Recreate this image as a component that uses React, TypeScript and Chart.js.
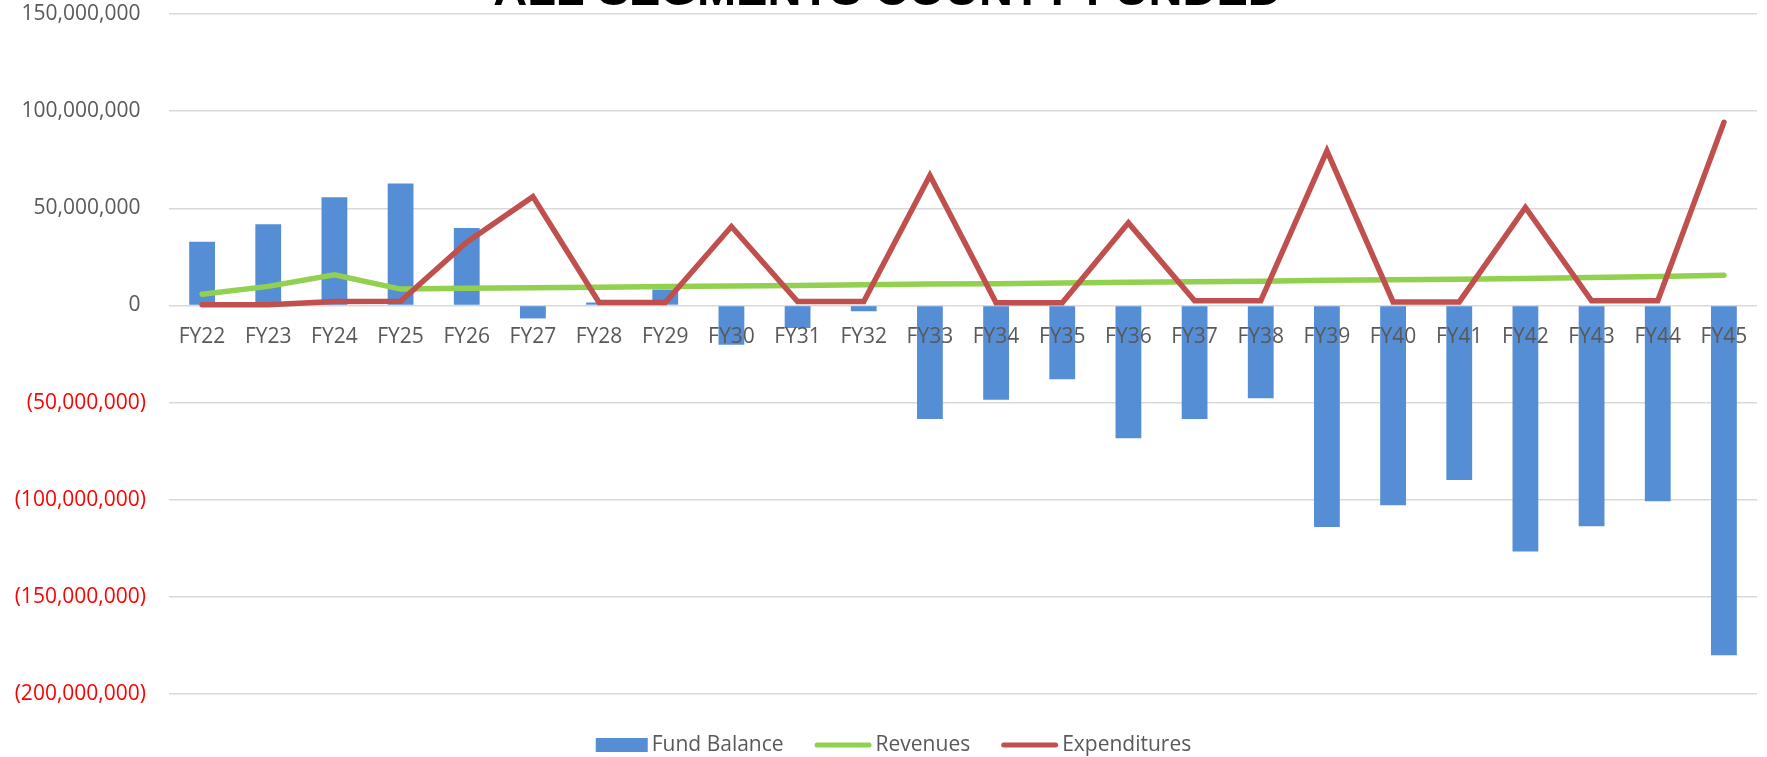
import React, { useEffect, useRef } from 'react';
import { Chart, registerables } from 'chart.js';

Chart.register(...registerables);

const TITLE = 'ALL SEGMENTS COUNTY FUNDED';

const CATEGORIES = [
  'FY22', 'FY23', 'FY24', 'FY25', 'FY26', 'FY27', 'FY28', 'FY29', 'FY30', 'FY31', 'FY32', 'FY33',
  'FY34', 'FY35', 'FY36', 'FY37', 'FY38', 'FY39', 'FY40', 'FY41', 'FY42', 'FY43', 'FY44', 'FY45',
];

// values in millions
const FUND_BALANCE_M = [
  32.8, 41.8, 55.7, 62.8, 39.8, -6.7, 1.5, 8.2, -20.2, -11.6, -3.0, -58.4,
  -48.5, -38.0, -68.4, -58.4, -47.8, -114.0, -102.9, -89.8, -126.7, -113.7, -100.8, -180.0,
];

const REVENUES_M = [
  5.8, 9.8, 15.8, 8.4, 8.9, 9.1, 9.4, 9.7, 10.0, 10.3, 10.6, 11.0,
  11.2, 11.5, 11.9, 12.2, 12.5, 12.9, 13.2, 13.5, 13.9, 14.4, 14.9, 15.5,
];

const EXPENDITURES_M = [
  0.4, 0.3, 2.0, 2.1, 32.5, 56.0, 1.5, 1.5, 40.6, 2.0, 2.0, 66.9,
  1.4, 1.4, 42.5, 2.4, 2.4, 79.6, 1.8, 1.8, 50.4, 2.4, 2.4, 94.2,
];

const SERIES_NAMES = ['Fund Balance', 'Revenues', 'Expenditures'];

const Y_MIN = -200000000;
const Y_MAX = 150000000;
const Y_STEP = 50000000;

const FONT_FAMILY = '"Open Sans", "DejaVu Sans", sans-serif';
const TEXT_COLOR = '#595959';
const BAR_COLOR = '#558ED5';
const GREEN = '#92D050';
const RED = '#C0504D';

function fmt(v: number): string {
  const s = Math.abs(v).toLocaleString('en-US');
  return v < 0 ? `(${s})` : `${s}\u2008`;
}

const titlePlugin = {
  id: 'topTitle',
  afterDraw(chart: any) {
    const ctx = chart.ctx;
    ctx.save();
    ctx.font = 'bold 47px "Liberation Sans", Arial, sans-serif';
    ctx.fillStyle = '#000000';
    ctx.textAlign = 'center';
    ctx.textBaseline = 'alphabetic';
    ctx.fillText(TITLE, chart.width / 2 + 4, 5);
    ctx.restore();
  },
};

// category labels sit just under the zero line (Excel "next to axis")
const categoryLabelPlugin = {
  id: 'categoryLabels',
  afterDatasetsDraw(chart: any) {
    const ctx = chart.ctx;
    const xs = chart.scales.x;
    const ys = chart.scales.y;
    const base = ys.getPixelForValue(0) + 38;
    ctx.save();
    ctx.font = `21px ${FONT_FAMILY}`;
    ctx.fillStyle = TEXT_COLOR;
    ctx.textAlign = 'center';
    ctx.textBaseline = 'alphabetic';
    chart.data.labels.forEach((lab: string, i: number) => {
      ctx.fillText(lab, xs.getPixelForValue(i), base);
    });
    ctx.restore();
  },
};

const legendPlugin = {
  id: 'customLegend',
  afterDraw(chart: any) {
    const ctx = chart.ctx;
    ctx.save();
    ctx.font = `21px ${FONT_FAMILY}`;
    ctx.textBaseline = 'middle';
    ctx.textAlign = 'left';
    const items = chart.data.datasets.map((ds: any) => ({
      label: ds.label,
      kind: ds.type,
      color: ds.type === 'bar' ? ds.backgroundColor : ds.borderColor,
      keyW: ds.type === 'bar' ? 52 : 57,
    }));
    const gapKey = 4;
    const gapItem = 31;
    let total = 0;
    items.forEach((it: any, i: number) => {
      it.textW = ctx.measureText(it.label).width;
      total += it.keyW + gapKey + it.textW + (i > 0 ? gapItem : 0);
    });
    let x = chart.width / 2 + 10 - total / 2;
    const y = chart.height - 12;
    items.forEach((it: any) => {
      if (it.kind === 'bar') {
        ctx.fillStyle = it.color;
        ctx.fillRect(x, y - 7, it.keyW, 14);
      } else {
        ctx.strokeStyle = it.color;
        ctx.lineWidth = 5;
        ctx.lineCap = 'round';
        ctx.beginPath();
        ctx.moveTo(x + 2.5, y);
        ctx.lineTo(x + it.keyW - 2.5, y);
        ctx.stroke();
      }
      ctx.fillStyle = TEXT_COLOR;
      ctx.fillText(it.label, x + it.keyW + gapKey, y);
      x += it.keyW + gapKey + it.textW + gapItem;
    });
    ctx.restore();
  },
};

export default function App() {
  const canvasRef = useRef<HTMLCanvasElement | null>(null);

  useEffect(() => {
    if (!canvasRef.current) return;
    const chart = new Chart(canvasRef.current, {
      type: 'bar',
      data: {
        labels: CATEGORIES,
        datasets: [
          {
            type: 'bar',
            label: SERIES_NAMES[0],
            data: FUND_BALANCE_M.map((v) => v * 1e6),
            backgroundColor: BAR_COLOR,
            barPercentage: 0.39,
            categoryPercentage: 1,
            order: 3,
          } as any,
          {
            type: 'line',
            label: SERIES_NAMES[1],
            data: REVENUES_M.map((v) => v * 1e6),
            borderColor: GREEN,
            backgroundColor: GREEN,
            borderWidth: 5.5,
            pointRadius: 0,
            tension: 0,
            fill: false,
            borderCapStyle: 'round',
            order: 2,
          } as any,
          {
            type: 'line',
            label: SERIES_NAMES[2],
            data: EXPENDITURES_M.map((v) => v * 1e6),
            borderColor: RED,
            backgroundColor: RED,
            borderWidth: 5.5,
            pointRadius: 0,
            tension: 0,
            fill: false,
            borderCapStyle: 'round',
            order: 1,
          } as any,
        ],
      },
      options: {
        responsive: false,
        animation: false,
        layout: { padding: { top: 14, right: 10, bottom: 63, left: 0 } },
        plugins: {
          legend: { display: false },
          title: { display: false },
          tooltip: { enabled: false },
        },
        scales: {
          x: {
            display: false,
            offset: true,
          },
          y: {
            min: Y_MIN,
            max: Y_MAX,
            grid: { color: '#D9D9D9', lineWidth: 1.5, drawTicks: false },
            border: { display: false },
            ticks: {
              stepSize: Y_STEP,
              padding: 23,
              color: (ctx: any) => (ctx.tick && ctx.tick.value < 0 ? '#FF0000' : TEXT_COLOR),
              font: { family: FONT_FAMILY, size: 21 },
              callback: (v: any) => fmt(Number(v)),
            },
            afterFit: (scale: any) => {
              scale.width = 169;
              scale.paddingTop = 12;
              scale.paddingBottom = 12;
            },
          },
        },
      } as any,
      plugins: [titlePlugin, categoryLabelPlugin, legendPlugin],
    });
    return () => chart.destroy();
  }, []);

  return (
    <div style={{ position: 'absolute', left: 0, top: 0, width: 1767, height: 757, background: '#ffffff' }}>
      <canvas ref={canvasRef} width={1767} height={757} />
    </div>
  );
}
